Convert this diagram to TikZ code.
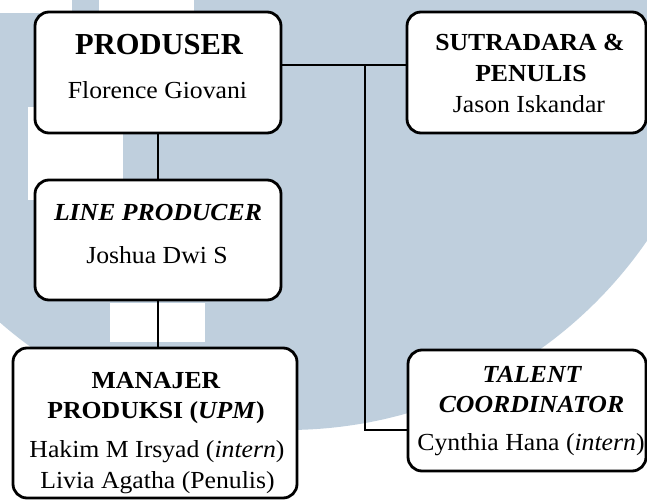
\documentclass[tikz,border=0pt]{standalone}
\usepackage{fontspec}
\setmainfont{Liberation Serif}[FakeStretch=1.05]
\newfontfamily\prodfont{Liberation Serif}
\definecolor{wmblue}{RGB}{191,207,221}
\tikzset{
  orgbox/.style={draw=black, line width=2.8pt, rounded corners=14pt, fill=white, inner sep=0pt},
  conn/.style={draw=black, line width=2.6pt},
  lbl/.style={anchor=base, inner sep=0pt, font=\fontsize{24.5}{29}\selectfont},
  wmwhite/.style={fill=white, draw=none}
}
\begin{document}
\begin{tikzpicture}[x=1pt, y=-1pt]
\useasboundingbox (0,0) rectangle (647,500);
% watermark
\begin{scope}
\clip (0,0) rectangle (647,500);
\fill[wmblue] (287,-7) circle[radius=437];
\fill[wmwhite] (-2,-2) rectangle (72,13);
\fill[wmwhite] (99,-2) rectangle (194,12);
\fill[wmwhite] (28,107) rectangle (123,200);
\fill[wmwhite] (110,303) rectangle (205,342);
\end{scope}
\coordinate (j) at (365,65);
\node[orgbox, minimum width=246pt, minimum height=121pt] (prod) at (158,72.5) {};
\node[orgbox, minimum width=246pt, minimum height=120pt] (lp) at (158,240) {};
\node[orgbox, minimum width=284pt, minimum height=150pt] (upm) at (155,423) {};
\node[orgbox, minimum width=239pt, minimum height=121pt] (sut) at (526.5,72.5) {};
\node[orgbox, minimum width=238pt, minimum height=121pt] (tal) at (527,410.5) {};
\draw[conn] (prod.south) -- (lp.north);
\draw[conn] (lp.south) -- (lp.south |- upm.north);
\draw[conn] ([yshift=7.5pt]prod.east) -- ([yshift=7.5pt]sut.west);
\draw[conn] (j) |- ([yshift=-19.5pt]tal.west);
% labels
\node[lbl, font=\prodfont\fontsize{30.5}{36}\selectfont\bfseries] (t1) at (159,55) {PRODUSER};
\node[lbl] (t2) at (157.5,99) {Florence Giovani};
\node[lbl] (t3) at (158,220) {\bfseries\itshape LINE PRODUCER};
\node[lbl] (t4) at (157,263) {Joshua Dwi S};
\node[lbl] (t5) at (156,388) {\bfseries MANAJER};
\node[lbl] (t6) at (156,418) {\bfseries PRODUKSI (\textit{UPM})};
\node[lbl] (t7) at (157,457) {Hakim M Irsyad (\textit{intern})};
\node[lbl] (t8) at (157.5,488) {Livia Agatha (Penulis)};
\node[lbl] (t9) at (530,51) {\bfseries SUTRADARA \&};
\node[lbl] (t10) at (531,82) {\bfseries PENULIS};
\node[lbl] (t11) at (529,113) {Jason Iskandar};
\node[lbl] (t12) at (532,382) {\bfseries\itshape TALENT};
\node[lbl] (t13) at (531.5,412) {\bfseries\itshape COORDINATOR};
\node[lbl] (t14) at (531,450) {Cynthia Hana (\textit{intern})};
\end{tikzpicture}
\end{document}
